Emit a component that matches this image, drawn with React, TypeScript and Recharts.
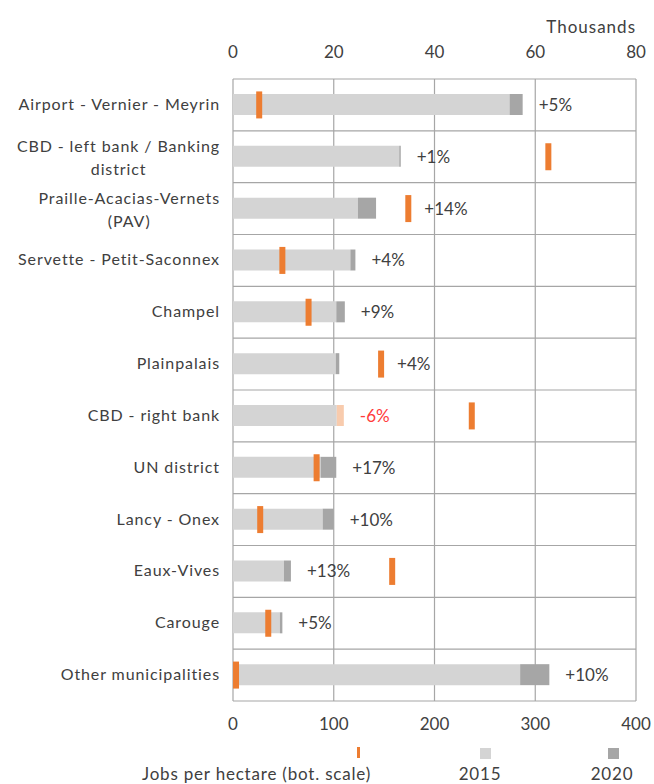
import React from "react";
import {
  ComposedChart,
  Bar,
  Scatter,
  XAxis,
  YAxis,
  CartesianGrid,
  Label,
} from "recharts";

// Districts, top to bottom
const categories = [
  "Airport - Vernier - Meyrin",
  "CBD - left bank / Banking\ndistrict",
  "Praille-Acacias-Vernets\n(PAV)",
  "Servette - Petit-Saconnex",
  "Champel",
  "Plainpalais",
  "CBD - right bank",
  "UN district",
  "Lancy - Onex",
  "Eaux-Vives",
  "Carouge",
  "Other municipalities",
];

// Jobs (thousands, top scale)
const jobs2015 = [54.9, 33.0, 24.8, 23.3, 20.5, 20.4, 22.0, 17.4, 17.8, 10.1, 9.3, 57.0];
const jobs2020 = [57.5, 33.3, 28.4, 24.3, 22.2, 21.1, 20.6, 20.5, 20.0, 11.5, 9.8, 62.8];

// Jobs per hectare (bottom scale)
const density = [26, 313, 174, 49, 75, 147, 237, 83, 27, 158, 35, 3];

// Change labels 2015 -> 2020
const changeLabels = ["+5%", "+1%", "+14%", "+4%", "+9%", "+4%", "-6%", "+17%", "+10%", "+13%", "+5%", "+10%"];

const topTicks = [0, 20, 40, 60, 80];
const bottomTicks = [0, 100, 200, 300, 400];

const FONT = "Lato, 'Open Sans', sans-serif";
const TEXT = "#404040";
const CAT_SIZE = 16;
const CAT_SPACING = 0.9;

const data = categories.map((name, i) => {
  const a = jobs2015[i];
  const b = jobs2020[i];
  const end = Math.max(a, b);
  // density expressed on the top scale (400 <-> 80)
  const m = density[i] / 5;
  const labelAt = m > end && m - end < 9 ? m : end;
  return {
    name,
    base: Math.min(a, b),
    inc: Math.max(0, b - a),
    dec: Math.max(0, a - b),
    density: density[i],
    labelAt,
    change: changeLabels[i],
  };
});

let measureCtx: any = null;
const measure = (txt: string) => {
  if (!measureCtx) measureCtx = document.createElement("canvas").getContext("2d");
  if (!measureCtx) return txt.length * 8;
  measureCtx.font = `${CAT_SIZE}px ${FONT}`;
  return measureCtx.measureText(txt).width + CAT_SPACING * txt.length;
};

const catText = {
  fontSize: CAT_SIZE,
  fontFamily: FONT,
  fill: TEXT,
  letterSpacing: CAT_SPACING,
};

const CategoryTick = (props: any) => {
  const { x, y, payload } = props;
  const lines = String(payload.value).split("\n");
  if (lines.length === 1) {
    return (
      <text x={x} y={y} dy={5} textAnchor="end" {...catText}>
        {lines[0]}
      </text>
    );
  }
  const w = measure(lines[0]);
  return (
    <g>
      <text x={x} y={y - 10} dy={5} textAnchor="end" {...catText}>
        {lines[0]}
      </text>
      <text x={x - w / 2} y={y + 13} dy={5} textAnchor="middle" {...catText}>
        {lines[1]}
      </text>
    </g>
  );
};

const DensityMarker = (props: any) => {
  const { cx, cy } = props;
  return <rect x={cx - 3} y={cy - 13.5} width={6} height={27} fill="#ED7D31" />;
};

const ChangeLabel = (props: any) => {
  const { cx, cy, payload } = props;
  const neg = String(payload.change).startsWith("-");
  return (
    <text
      x={cx + 16}
      y={cy}
      dy={6}
      textAnchor="start"
      fontSize={17}
      fontFamily={FONT}
      fill={neg ? "#FF3B3B" : TEXT}
    >
      {payload.change}
    </text>
  );
};

const legendText = {
  position: "absolute" as const,
  top: 763,
  fontFamily: FONT,
  fontSize: 17,
  color: TEXT,
  whiteSpace: "nowrap" as const,
  letterSpacing: 0.8,
};

export default function App() {
  return (
    <div style={{ position: "absolute", left: 0, top: 0, width: 654, height: 784, background: "#fff", overflow: "hidden" }}>
      <ComposedChart
        width={654}
        height={784}
        data={data}
        layout="vertical"
        margin={{ top: 21, right: 18, bottom: 43, left: 0 }}
      >
        <CartesianGrid
          xAxisId="bottom"
          stroke="#A6A6A6"
          strokeWidth={1.2}
          vertical={true}
          horizontal={true}
          horizontalCoordinatesGenerator={({ offset }: any) =>
            categories
              .map((_, i) => offset.top + (i * offset.height) / categories.length)
              .concat(offset.top + offset.height)
          }
        />
        <XAxis
          xAxisId="top"
          orientation="top"
          type="number"
          domain={[0, 80]}
          ticks={topTicks}
          height={58}
          axisLine={false}
          tickLine={false}
          tickSize={0}
          tickMargin={21}
          tick={{ fontSize: 17, fill: TEXT, fontFamily: FONT }}
          interval={0}
        >
          <Label
            value="Thousands"
            position="insideTopRight"
            offset={0}
            fontSize={17}
            fill={TEXT}
            fontFamily={FONT}
            letterSpacing={1}
          />
        </XAxis>
        <XAxis
          xAxisId="bottom"
          orientation="bottom"
          type="number"
          dataKey="density"
          domain={[0, 400]}
          ticks={bottomTicks}
          height={40}
          axisLine={false}
          tickLine={false}
          tickSize={0}
          tickMargin={17}
          tick={{ fontSize: 17, fill: TEXT, fontFamily: FONT }}
          interval={0}
        />
        <YAxis
          type="category"
          dataKey="name"
          width={233}
          axisLine={false}
          tickLine={false}
          tickSize={0}
          tickMargin={13}
          interval={0}
          tick={<CategoryTick />}
        />
        <Bar xAxisId="top" dataKey="base" stackId="j" fill="#D4D4D4" barSize={21} isAnimationActive={false} />
        <Bar xAxisId="top" dataKey="inc" stackId="j" fill="#A6A6A6" barSize={21} isAnimationActive={false} />
        <Bar xAxisId="top" dataKey="dec" stackId="j" fill="#F8CBAD" barSize={21} isAnimationActive={false} />
        <Scatter xAxisId="top" dataKey="labelAt" shape={<ChangeLabel />} isAnimationActive={false} />
        <Scatter xAxisId="bottom" dataKey="density" shape={<DensityMarker />} isAnimationActive={false} />
      </ComposedChart>

      {/* legend */}
      <div style={{ position: "absolute", left: 357, top: 747, width: 3, height: 11, background: "#ED7D31" }} />
      <div style={{ position: "absolute", left: 480, top: 748, width: 11, height: 11, background: "#D4D4D4" }} />
      <div style={{ position: "absolute", left: 608, top: 748, width: 11, height: 11, background: "#A6A6A6" }} />
      <div style={{ ...legendText, right: 654 - 371 }}>Jobs per hectare (bot. scale)</div>
      <div style={{ ...legendText, left: 440, width: 80, textAlign: "center" }}>2015</div>
      <div style={{ ...legendText, left: 572, width: 80, textAlign: "center" }}>2020</div>
    </div>
  );
}
